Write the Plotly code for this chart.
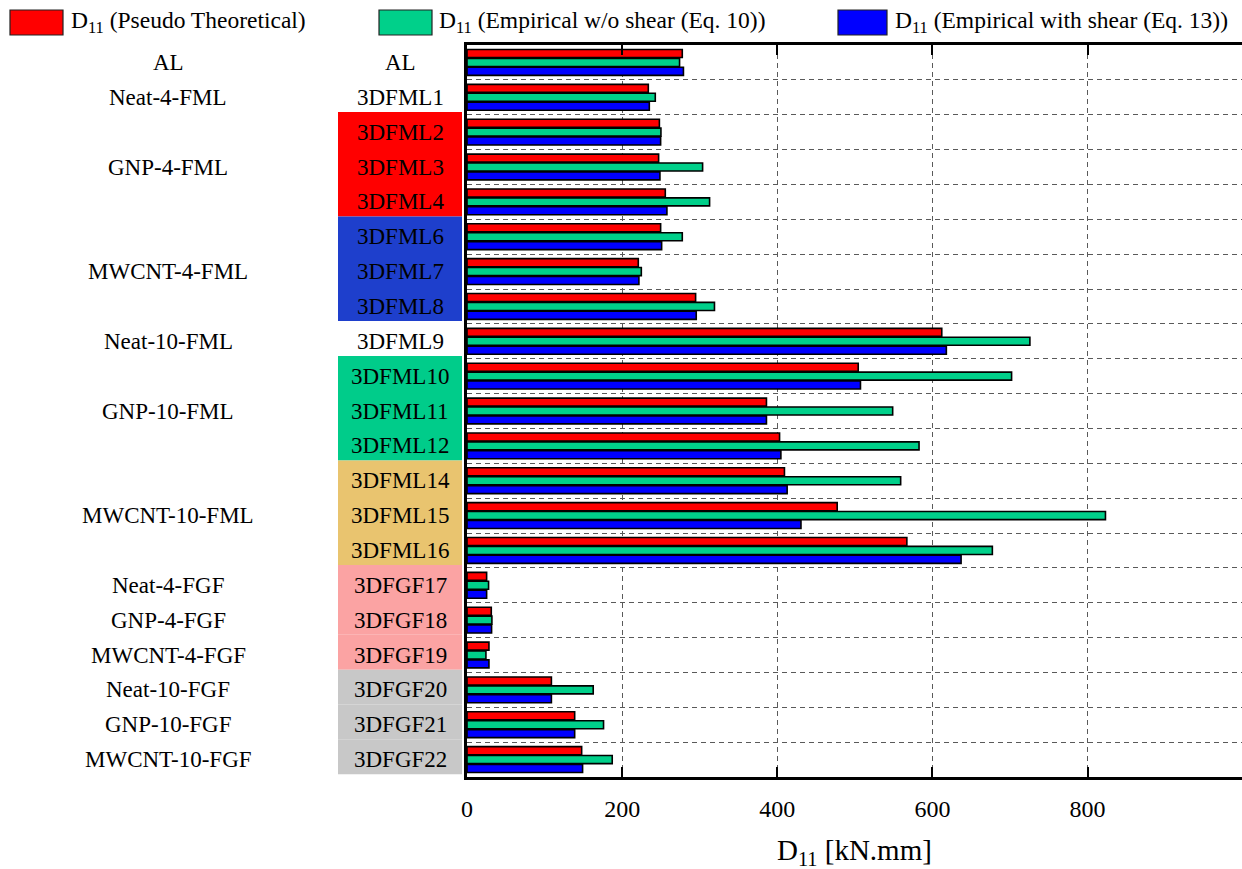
import plotly.graph_objects as go

# Sample IDs (one row each, top to bottom)
samples = ["AL", "3DFML1", "3DFML2", "3DFML3", "3DFML4", "3DFML6", "3DFML7", "3DFML8",
           "3DFML9", "3DFML10", "3DFML11", "3DFML12", "3DFML14", "3DFML15", "3DFML16",
           "3DFGF17", "3DFGF18", "3DFGF19", "3DFGF20", "3DFGF21", "3DFGF22"]

# Laminate groups and the number of samples in each
groups = ["AL", "Neat-4-FML", "GNP-4-FML", "MWCNT-4-FML", "Neat-10-FML", "GNP-10-FML",
          "MWCNT-10-FML", "Neat-4-FGF", "GNP-4-FGF", "MWCNT-4-FGF", "Neat-10-FGF",
          "GNP-10-FGF", "MWCNT-10-FGF"]
group_sizes = [1, 1, 3, 3, 1, 3, 3, 1, 1, 1, 1, 1, 1]
group_fill = [None, None, "#FF0000", "#1E3FCC", None, "#00CC8A", "#E9C46F",
              "#FBA3A3", "#FBA3A3", "#FBA3A3", "#C8C8C8", "#C8C8C8", "#C8C8C8"]

# D11 bending stiffness [kN.mm]
d11_pseudo = [277.5, 233.7, 248.0, 247.0, 255.6, 249.6, 220.8, 294.7, 612.0, 504.3, 386.0,
              402.9, 409.2, 477.2, 567.0, 25.3, 31.3, 28.3, 108.8, 138.8, 147.8]
d11_no_shear = [274.0, 242.7, 250.0, 303.7, 312.7, 277.5, 224.7, 319.0, 725.6, 702.0, 548.7,
                582.7, 559.0, 823.0, 677.2, 27.8, 32.1, 24.4, 162.7, 176.0, 187.2]
d11_shear = [279.0, 235.0, 249.6, 248.7, 257.7, 250.9, 221.6, 295.5, 617.9, 507.2, 386.0,
             404.6, 412.7, 430.5, 636.9, 25.3, 31.7, 28.3, 108.8, 138.8, 149.0]

series_names = ["D<sub>11</sub> (Pseudo Theoretical)",
                "D<sub>11</sub> (Empirical w/o shear (Eq. 10))",
                "D<sub>11</sub> (Empirical with shear (Eq. 13))"]
series_colors = ["#FF0000", "#00D08A", "#0000FF"]
series_values = [d11_pseudo, d11_no_shear, d11_shear]

W, H = 1242, 869
L, R, T, B = 467, 0, 45, 92
FONT = "Liberation Serif"


def px_x(p):
    return (p - L) / (W - L - R)


def px_y(p):
    return (H - B - p) / (H - B - T)


fig = go.Figure()
for name, color, vals in zip(series_names, series_colors, series_values):
    fig.add_trace(go.Bar(
        y=samples, x=vals, orientation="h", name=name,
        marker=dict(color=color, line=dict(color="black", width=1.6)),
        showlegend=False,
    ))

shapes = []
annotations = []

# Coloured boxes behind sample IDs and group labels on the left
row = 0
for gname, size, fill in zip(groups, group_sizes, group_fill):
    if fill is not None:
        shapes.append(dict(type="rect", xref="paper", yref="y",
                           x0=px_x(338), x1=px_x(462), y0=row - 0.58, y1=row + size - 0.58,
                           fillcolor=fill, line=dict(width=0), layer="below"))
    mid = samples[row + size // 2]
    annotations.append(dict(xref="paper", yref="y", x=px_x(168), y=mid, text=gname,
                            showarrow=False, xanchor="center", yanchor="middle",
                            font=dict(family=FONT, size=23, color="black")))
    row += size

for s in samples:
    annotations.append(dict(xref="paper", yref="y", x=px_x(400), y=s, text=s,
                            showarrow=False, xanchor="center", yanchor="middle",
                            font=dict(family=FONT, size=23, color="black")))

# Legend swatches and labels across the top
legend_x = [(10, 63, 69), (379, 432, 437), (838, 887, 893)]
for (x0, x1, tx), name, color in zip(legend_x, series_names, series_colors):
    shapes.append(dict(type="rect", xref="paper", yref="paper",
                       x0=px_x(x0), x1=px_x(x1), y0=px_y(35), y1=px_y(10),
                       fillcolor=color, line=dict(color="#222222", width=1.2)))
    annotations.append(dict(xref="paper", yref="paper", x=px_x(tx), y=px_y(22),
                            text=name, showarrow=False, xanchor="left", yanchor="middle",
                            font=dict(family=FONT, size=23.5, color="black")))

# x-axis title
annotations.append(dict(xref="paper", yref="paper", x=0.5, y=px_y(852),
                        text="D<sub>11</sub> [kN.mm]", showarrow=False,
                        xanchor="center", yanchor="middle",
                        font=dict(family=FONT, size=29, color="black")))

fig.update_layout(
    width=W, height=H,
    margin=dict(l=L, r=R, t=T, b=B, pad=0),
    paper_bgcolor="white", plot_bgcolor="white",
    barmode="group", bargap=0.234, bargroupgap=0.1,
    shapes=shapes, annotations=annotations,
    font=dict(family=FONT, color="black"),
)
fig.update_xaxes(
    range=[0, 999], tickvals=[0, 200, 400, 600, 800],
    showline=True, linecolor="black", linewidth=2.6, mirror="allticks",
    ticks="inside", ticklen=10, tickwidth=2, tickcolor="black",
    ticklabelstandoff=8,
    tickfont=dict(family=FONT, size=24, color="black"),
    showgrid=True, gridcolor="#5a5a5a", gridwidth=1.3, griddash="5px,4px",
    zeroline=False,
)
fig.update_yaxes(
    autorange="reversed", showticklabels=False, ticks="",
    tickson="boundaries",
    showline=True, linecolor="black", linewidth=2.6, mirror=False,
    showgrid=True, gridcolor="#5a5a5a", gridwidth=1.3, griddash="5px,4px",
    zeroline=False,
)

fig.write_html("out.html")
